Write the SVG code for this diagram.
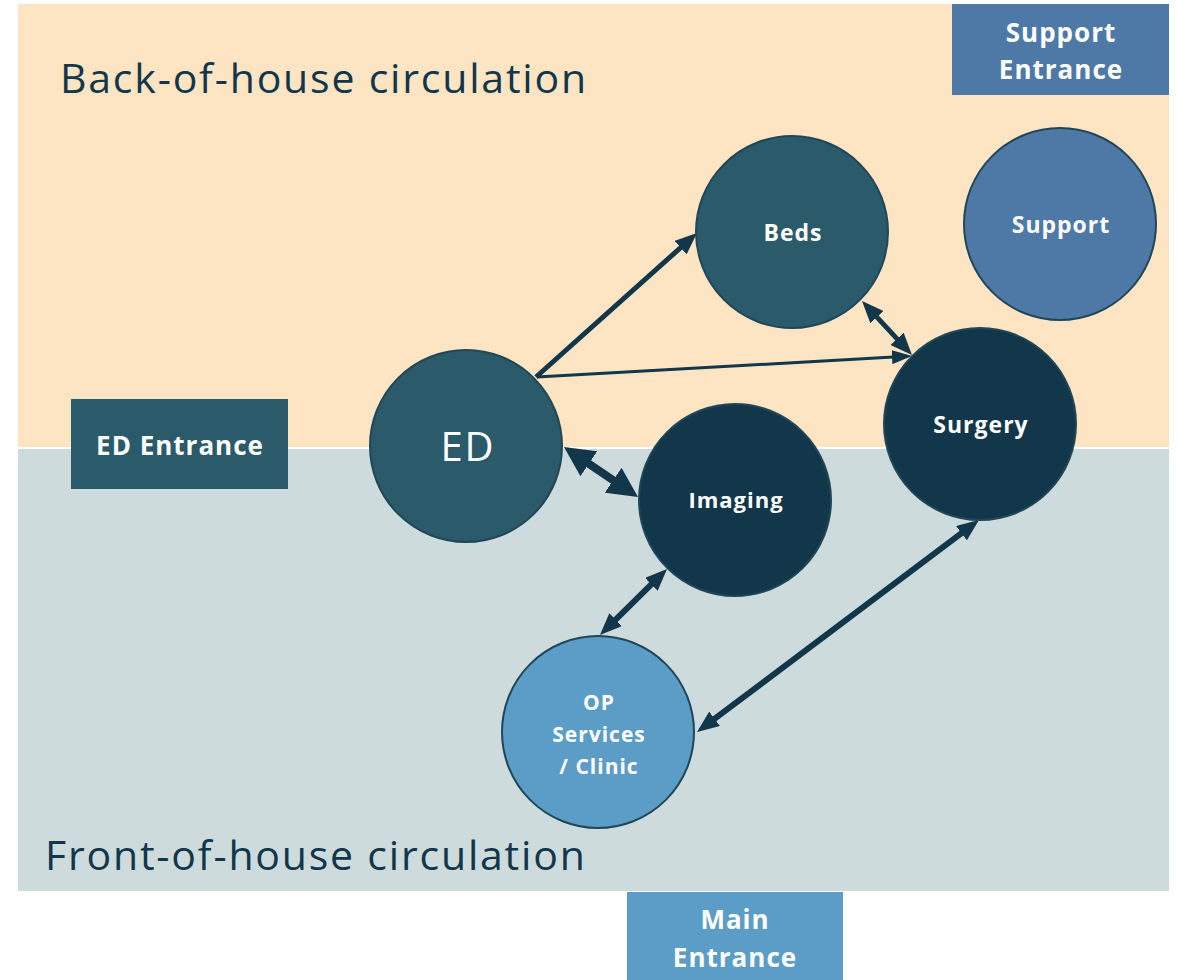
<svg xmlns="http://www.w3.org/2000/svg" width="1178" height="980" viewBox="0 0 1178 980">
<style>
.zone-title{font-family:"Open Sans","Liberation Sans",sans-serif;font-size:41px;fill:#12364A;letter-spacing:1.8px}
.lbl{font-family:"Open Sans","Liberation Sans",sans-serif;font-weight:bold;fill:#FFFFFF;text-anchor:middle;letter-spacing:1px}
.node{stroke:#1F4757;stroke-width:2}
.con{stroke:#12364A;fill:none}
</style>
<defs>
<marker id="mA" markerUnits="userSpaceOnUse" markerWidth="22" markerHeight="18" refX="11" refY="9" orient="auto-start-reverse" viewBox="0 0 22 18"><path d="M0,0 L22,9 L0,18 z" fill="#12364A"/></marker>
<marker id="mB" markerUnits="userSpaceOnUse" markerWidth="30" markerHeight="30" refX="15" refY="15" orient="auto-start-reverse" viewBox="0 0 30 30"><path d="M0,0 L30,15 L0,30 z" fill="#12364A"/></marker>
<marker id="mC" markerUnits="userSpaceOnUse" markerWidth="20" markerHeight="14" refX="10" refY="7" orient="auto-start-reverse" viewBox="0 0 20 14"><path d="M0,0 L20,7 L0,14 z" fill="#12364A"/></marker>
</defs>
<rect width="1178" height="980" fill="#FFFFFF"/>
<g id="zones">
<rect x="18" y="4" width="1151" height="443" fill="#FDE4C3"/>
<rect x="18" y="449" width="1151" height="442" fill="#CEDBDD"/>
<text class="zone-title" x="60" y="93">Back-of-house circulation</text>
<text class="zone-title" x="45" y="870">Front-of-house circulation</text>
</g>
<g id="support-entrance">
<rect x="952" y="4" width="217" height="91" fill="#4E79A7"/>
<text class="lbl" x="1061" y="42" font-size="26">Support</text>
<text class="lbl" x="1061" y="79" font-size="26">Entrance</text>
</g>
<g id="ed-entrance">
<rect x="71" y="399" width="217" height="90" fill="#2B5A6A"/>
<text class="lbl" x="180" y="455" font-size="26">ED Entrance</text>
</g>
<g id="main-entrance">
<rect x="627" y="892" width="216" height="88" fill="#5B9DC6"/>
<text class="lbl" x="735" y="929" font-size="26">Main</text>
<text class="lbl" x="735" y="967" font-size="26">Entrance</text>
</g>
<g id="connectors">
<line class="con" x1="536" y1="377" x2="688.8" y2="240.3" stroke-width="5" marker-end="url(#mA)"/>
<line class="con" x1="537" y1="377" x2="902" y2="356.6" stroke-width="3" marker-end="url(#mC)"/>
<line class="con" x1="904.5" y1="346.9" x2="869.5" y2="309.1" stroke-width="5" marker-start="url(#mA)" marker-end="url(#mA)"/>
<line class="con" x1="576.4" y1="455.4" x2="625.6" y2="488.6" stroke-width="8" marker-start="url(#mB)" marker-end="url(#mB)"/>
<line class="con" x1="659.2" y1="576.7" x2="607.8" y2="627.3" stroke-width="6" marker-start="url(#mA)" marker-end="url(#mA)"/>
<line class="con" x1="970.2" y1="526.6" x2="705.8" y2="725.4" stroke-width="6" marker-start="url(#mA)" marker-end="url(#mA)"/>
</g>
<g id="beds">
<circle class="node" cx="792" cy="232" r="96" fill="#2B5A6A"/>
<text class="lbl" x="793" y="241" font-size="23">Beds</text>
</g>
<g id="support">
<circle class="node" cx="1060" cy="224" r="96" fill="#4E79A7"/>
<text class="lbl" x="1061" y="233" font-size="23">Support</text>
</g>
<g id="ed">
<circle class="node" cx="466" cy="446" r="96" fill="#2B5A6A"/>
<text x="468" y="461" font-family="Open Sans, Liberation Sans, sans-serif" font-size="40" letter-spacing="2" fill="#FFFFFF" text-anchor="middle">ED</text>
</g>
<g id="imaging">
<circle class="node" cx="735" cy="500" r="96" fill="#12364A"/>
<text class="lbl" x="736" y="508" font-size="22">Imaging</text>
</g>
<g id="surgery">
<circle class="node" cx="980" cy="424" r="96" fill="#12364A"/>
<text class="lbl" x="981" y="433" font-size="23">Surgery</text>
</g>
<g id="op-services">
<circle class="node" cx="598" cy="732" r="96" fill="#5B9DC6"/>
<text class="lbl" x="599" y="710" font-size="21">OP</text>
<text class="lbl" x="599" y="742" font-size="21">Services</text>
<text class="lbl" x="599" y="774" font-size="21">/ Clinic</text>
</g>
</svg>
